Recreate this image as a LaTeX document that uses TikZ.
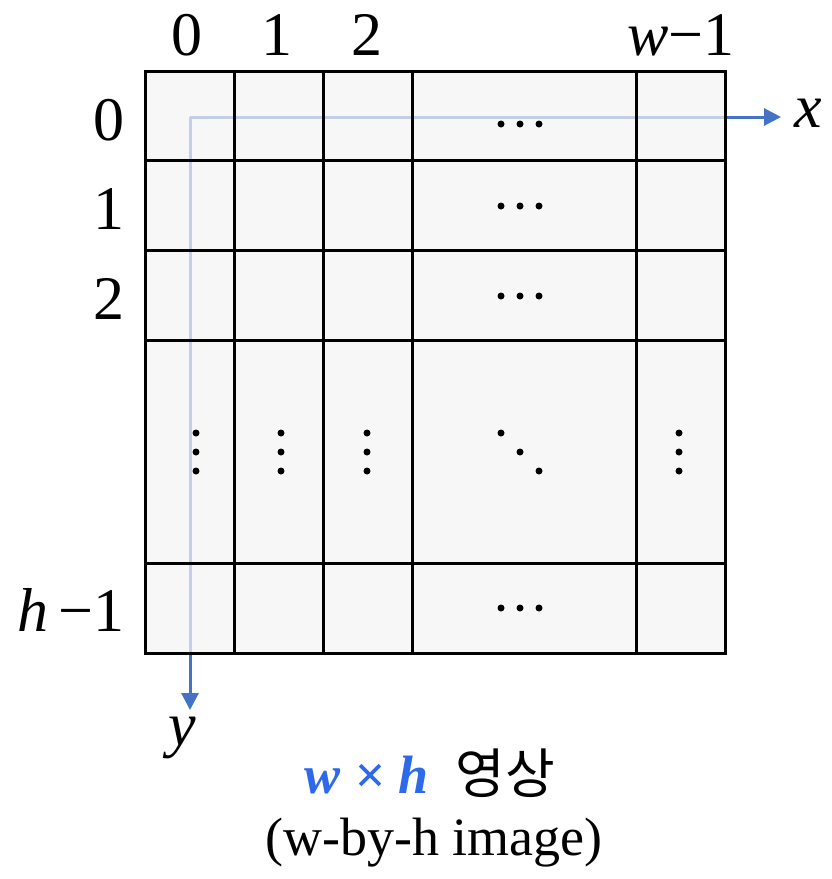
\documentclass[tikz,border=0pt]{standalone}
\usepackage{fontspec}
\setmainfont{Liberation Serif}
\newfontfamily\krfont{Noto Sans CJK KR}
\usetikzlibrary{arrows.meta}
\definecolor{axisblue}{RGB}{68,114,196}
\definecolor{titleblue}{RGB}{45,105,235}
\definecolor{cellgray}{RGB}{244,244,244}
\tikzstyle{lbl}=[inner sep=0pt,font=\fontsize{62}{66}\selectfont]
\tikzstyle{captxt}=[inner sep=0pt,font=\fontsize{54}{60}\selectfont]
\tikzstyle{axis}=[-{Triangle[length=17pt,width=17pt]},draw=axisblue,line width=3pt]
\tikzstyle{gridline}=[draw=black,line width=3pt]
\tikzstyle{dot}=[fill=black]

\begin{document}
\begin{tikzpicture}[x=1pt,y=-1pt]
    \useasboundingbox (0,0) rectangle (831,879);
    % axes
    \coordinate (O) at (190,117);
    \coordinate (Xend) at (781,117);
    \coordinate (Yend) at (190,710);
    \draw[axis] (O) -- (Xend);
    \draw[axis] (O) -- (Yend);
    % w-by-h grid
    \fill[cellgray,fill opacity=0.72] (145,71) rectangle (725,653);
    \draw[gridline] (145,71) rectangle (725,653);
    \draw[gridline] (234,71) -- (234,653);
    \draw[gridline] (323,71) -- (323,653);
    \draw[gridline] (412,71) -- (412,653);
    \draw[gridline] (636,71) -- (636,653);
    \draw[gridline] (145,160) -- (725,160);
    \draw[gridline] (145,250) -- (725,250);
    \draw[gridline] (145,340) -- (725,340);
    \draw[gridline] (145,563) -- (725,563);
    % column and row indices
    \node[lbl,anchor=base] (c0) at (187,55) {0};
    \node[lbl,anchor=base] (c1) at (277,55) {1};
    \node[lbl,anchor=base] (c2) at (367,55) {2};
    \node[lbl,anchor=base east] (cw) at (735,55) {\textit{w}−1};
    \node[lbl,anchor=base east] (r0) at (125,140) {0};
    \node[lbl,anchor=base east] (r1) at (125,229) {1};
    \node[lbl,anchor=base east] (r2) at (125,319) {2};
    \node[lbl,anchor=base east] (rh) at (125,631) {\textit{h}\,−1};
    \node[lbl] (xlab) at (808,113) {\textit{x}};
    \node[lbl] (ylab) at (182,738) {\textit{y}};
    % dots
    \foreach \y in {124,206,296,608}
      \foreach \dx in {-19,0,19}
        \fill[dot] (520+\dx,\y) circle (3.5);
    \foreach \x in {196,281,367,679}
      \foreach \dy in {-19,0,19}
        \fill[dot] (\x,452+\dy) circle (3.5);
    \foreach \d in {-19,0,19}
      \fill[dot] (520+\d,452+\d) circle (3.5);
    % caption
    \node[captxt] (title) at (430,773) {{\color{titleblue}\bfseries\itshape w × h}\enspace{\krfont 영상}};
    \node[captxt] (sub) at (434,843) {(w-by-h image)};
\end{tikzpicture}
\end{document}
